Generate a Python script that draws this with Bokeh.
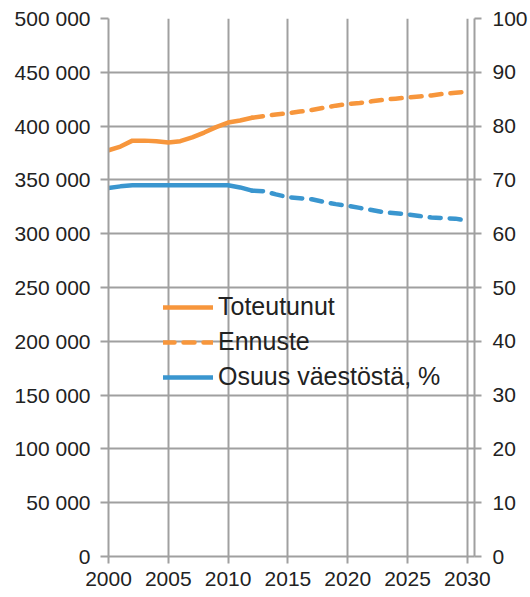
from bokeh.plotting import figure
from bokeh.models import (Range1d, LinearAxis, FixedTicker, Legend, LegendItem)
from bokeh.embed import file_html
from bokeh.resources import INLINE

# ---- data ----
years_actual = [2000, 2001, 2002, 2003, 2004, 2005, 2006, 2007, 2008, 2009, 2010, 2011, 2012]
pop_actual = [377500, 381000, 386500, 386500, 386000, 384800, 386000, 389500, 394000, 399000, 403300, 405200, 407700]

years_forecast = [2012, 2013, 2014, 2015, 2016, 2017, 2018, 2019, 2020, 2021,
                  2022, 2023, 2024, 2025, 2026, 2027, 2028, 2029, 2030]
pop_forecast = [407700, 409300, 410800, 412000, 413500, 415000, 417000, 419000, 420500, 421500,
                423000, 424500, 425500, 426500, 427500, 428500, 430000, 431000, 432000]

share_actual = [68.5, 68.8, 69.0, 69.0, 69.0, 69.0, 69.0, 69.0, 69.0, 69.0, 69.0, 68.6, 68.0]
share_forecast = [68.0, 67.9, 67.3, 66.8, 66.6, 66.4, 65.9, 65.5, 65.2, 64.8,
                  64.4, 64.0, 63.8, 63.6, 63.3, 63.0, 62.9, 62.8, 62.4]

x_ticks = [2000, 2005, 2010, 2015, 2020, 2025, 2030]
left_ticks = [0, 50000, 100000, 150000, 200000, 250000, 300000, 350000, 400000, 450000, 500000]
left_labels = ["0", "50 000", "100 000", "150 000", "200 000", "250 000",
               "300 000", "350 000", "400 000", "450 000", "500 000"]
right_ticks = [0, 10, 20, 30, 40, 50, 60, 70, 80, 90, 100]

labels = ["Toteutunut", "Ennuste", "Osuus väestöstä, %"]

ORANGE = "#F7963C"
BLUE = "#3A96CF"
GRID = "#a0a0a0"
TEXT = "#222222"
FONT = "Liberation Sans"
TICK_SIZE = "21px"

p = figure(width=530, height=597, output_backend="svg", toolbar_location=None,
           x_range=Range1d(2000, 2030.6), y_range=Range1d(0, 500000),
           min_border_left=108, min_border_right=56, min_border_top=18, min_border_bottom=41)
p.extra_y_ranges = {"share": Range1d(0, 100)}
p.outline_line_color = None
p.background_fill_color = "white"
p.border_fill_color = "white"

# axes
for ax in [p.xaxis[0], p.yaxis[0]]:
    ax.axis_line_color = GRID
    ax.axis_line_width = 2
    ax.major_tick_line_color = GRID
    ax.major_tick_line_width = 2
    ax.major_tick_in = 0
    ax.minor_tick_line_color = None
    ax.major_label_text_font = FONT
    ax.major_label_text_font_size = TICK_SIZE
    ax.major_label_text_color = TEXT

p.xaxis[0].ticker = FixedTicker(ticks=x_ticks)
p.xaxis[0].major_tick_out = 7
p.xaxis[0].major_label_standoff = 8

p.yaxis[0].ticker = FixedTicker(ticks=left_ticks)
p.yaxis[0].major_label_overrides = {t: l for t, l in zip(left_ticks, left_labels)}
p.yaxis[0].major_tick_out = 8
p.yaxis[0].major_label_standoff = 10

raxis = LinearAxis(y_range_name="share", ticker=FixedTicker(ticks=right_ticks))
raxis.axis_line_color = GRID
raxis.axis_line_width = 2
raxis.major_tick_line_color = GRID
raxis.major_tick_line_width = 2
raxis.major_tick_in = 0
raxis.major_tick_out = 7
raxis.minor_tick_line_color = None
raxis.major_label_text_font = FONT
raxis.major_label_text_font_size = TICK_SIZE
raxis.major_label_text_color = TEXT
raxis.major_label_standoff = 11
p.add_layout(raxis, "right")

# grid
p.xgrid.ticker = FixedTicker(ticks=x_ticks)
p.ygrid.ticker = FixedTicker(ticks=left_ticks)
for g in [p.xgrid[0], p.ygrid[0]]:
    g.grid_line_color = GRID
    g.grid_line_width = 2

# lines
r_fc = p.line(years_forecast, pop_forecast, line_color=ORANGE, line_width=4.5,
              line_dash="11 9", line_cap="round")
r_act = p.line(years_actual, pop_actual, line_color=ORANGE, line_width=4.5, line_cap="round",
               line_join="round")
r_sf = p.line(years_forecast, share_forecast, line_color=BLUE, line_width=4.5,
              line_dash="11 9", line_cap="round", y_range_name="share")
r_sa = p.line(years_actual, share_actual, line_color=BLUE, line_width=4.5, line_cap="round",
              line_join="round", y_range_name="share")

legend = Legend(items=[LegendItem(label=labels[0], renderers=[r_act]),
                       LegendItem(label=labels[1], renderers=[r_fc]),
                       LegendItem(label=labels[2], renderers=[r_sa])],
                location=(55, 165))
legend.padding = 0
legend.margin = 0
legend.spacing = 6
legend.glyph_width = 50
legend.glyph_height = 20
legend.label_height = 20
legend.label_standoff = 5
legend.border_line_color = None
legend.background_fill_alpha = 0
legend.label_text_font = FONT
legend.label_text_font_size = "25px"
legend.label_text_color = TEXT
p.add_layout(legend, "center")

open("out.html", "w").write(file_html(p, INLINE))
